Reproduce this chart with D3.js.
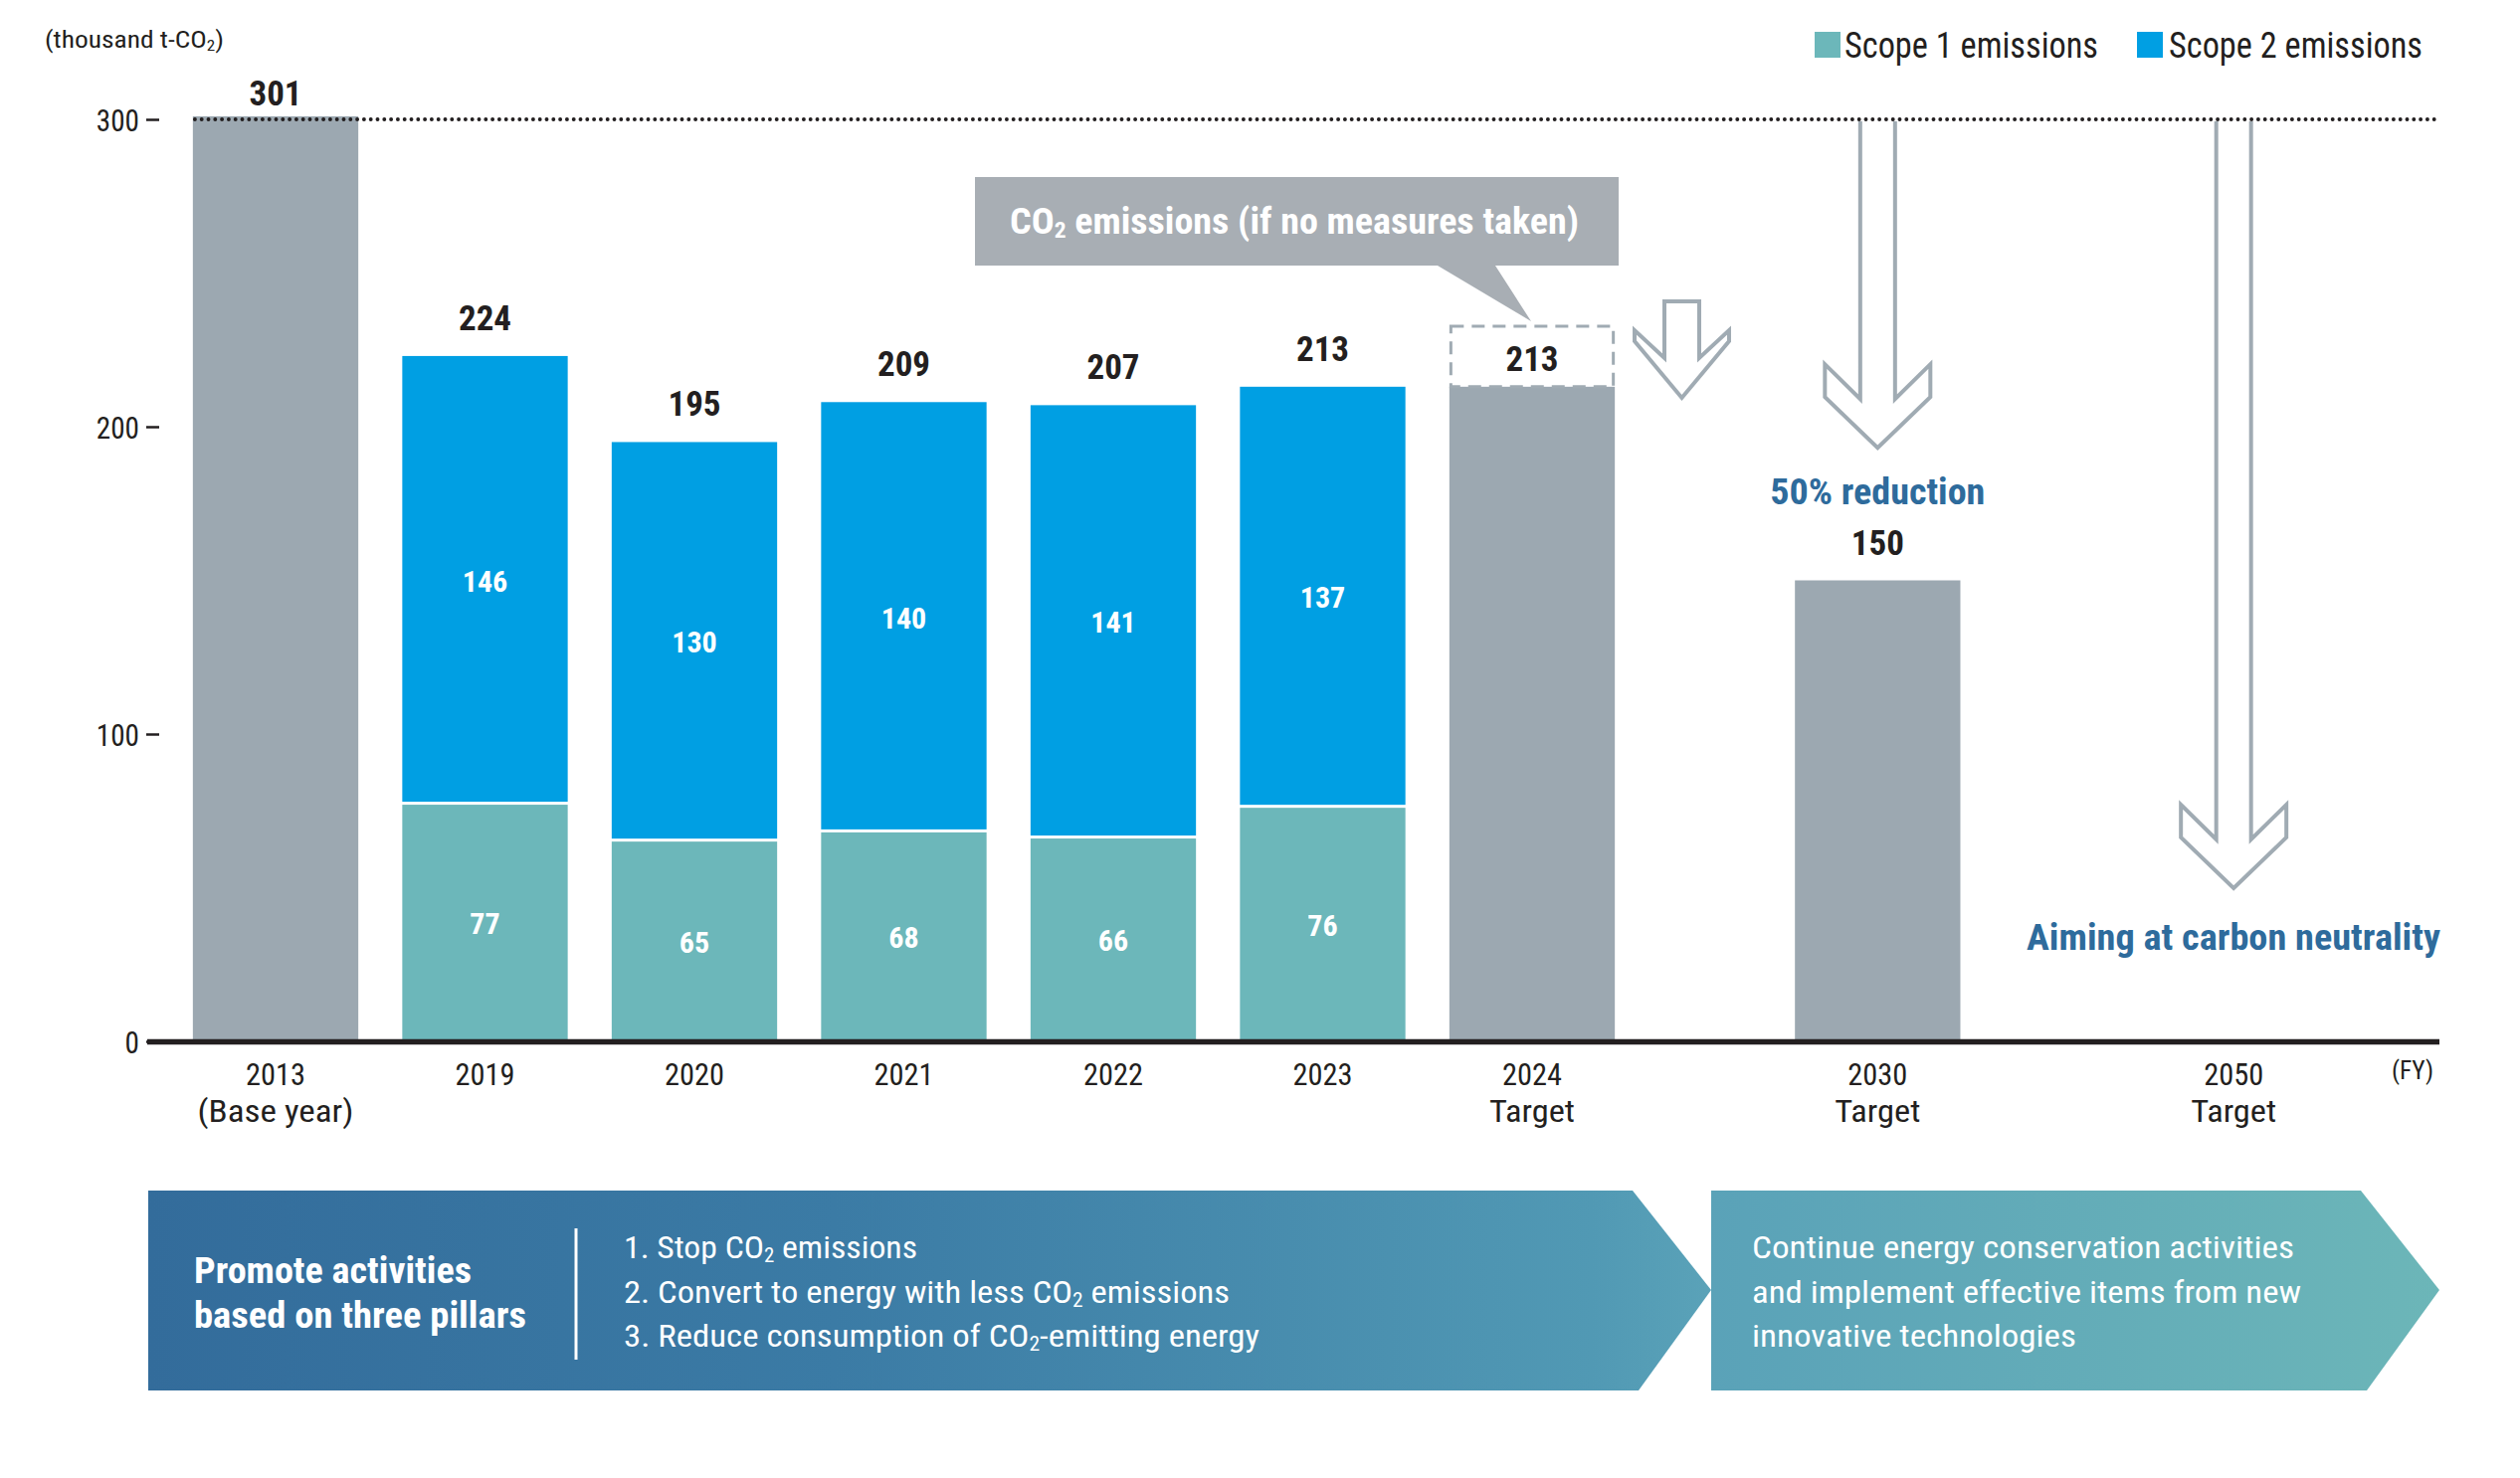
<!DOCTYPE html>
<html>
<head>
<meta charset="utf-8">
<script src="https://cdn.jsdelivr.net/npm/d3@7"></script>
<style>
  html, body { margin: 0; padding: 0; background: #ffffff; }
  svg { display: block; }
</style>
</head>
<body>
<svg id="chart" width="2533" height="1486"></svg>
<script>
// ---------------- DATA ----------------
const categories = ["2013", "2019", "2020", "2021", "2022", "2023", "2024", "2030", "2050"];
const subLabels  = ["(Base year)", "", "", "", "", "", "Target", "Target", "Target"];
const scope1     = [null, 77, 65, 68, 66, 76, null, null, null];
const scope2     = [null, 146, 130, 140, 141, 137, null, null, null];
const grayTotals = [301, null, null, null, null, null, 213, 150, null];
const totalLabels = [301, 224, 195, 209, 207, 213, 213, 150, null];
const yTicks     = [0, 100, 200, 300];
const legendItems = ["Scope 1 emissions", "Scope 2 emissions"];
const pillarsTitle = ["Promote activities", "based on three pillars"];
const pillarsItems = [["1. Stop CO", "2", " emissions"], ["2. Convert to energy with less CO", "2", " emissions"], ["3. Reduce consumption of CO", "2", "-emitting energy"]];
const futureText = ["Continue energy conservation activities", "and implement effective items from new", "innovative technologies"];

// ---------------- STYLE ----------------
const C = {
  text: "#231f20", gray: "#9ca8b1", s1: "#6cb7ba", s2: "#009fe3",
  arrow: "#a0abb3", callout: "#a8aeb4", blue: "#2e6b9c"
};

function pickFont() {
  const c = document.createElement("canvas").getContext("2d");
  const s = "abcdefghijklmnopqrstuvwxyzABCDEFGHIJ0123456789";
  c.font = '72px "Liberation Sans"'; const base = c.measureText(s).width;
  for (const f of ["Liberation Sans Narrow", "Roboto Condensed", "DejaVu Sans Condensed"]) {
    c.font = `72px "${f}", "Liberation Sans"`;
    const w = c.measureText(s).width;
    if (w < base * 0.88) return { f, ratio: w / base };
  }
  return null;
}
const nf = pickFont();
const FONT = nf ? `"${nf.f}", "Liberation Sans", sans-serif` : `"Liberation Sans", Arial, sans-serif`;
const SX = nf ? 1 : 0.84;

const svg = d3.select("#chart");

// o.w = width of the text as measured on the reference (fits glyphs to it)
function txt(parent, x, y, str, o = {}) {
  const size = o.size || 30;
  const t = parent.append("text")
    .attr("transform", o.w ? `translate(${x},${y})` : `translate(${x},${y}) scale(${SX},1)`)
    .attr("font-family", FONT)
    .attr("font-size", size)
    .attr("font-weight", o.weight || "normal")
    .attr("text-anchor", o.anchor || "start")
    .attr("fill", o.fill || C.text);
  if (o.w) t.attr("textLength", o.w).attr("lengthAdjust", "spacingAndGlyphs");
  if (Array.isArray(str)) {
    t.append("tspan").text(str[0]);
    t.append("tspan").attr("font-size", size * 0.62).attr("dy", size * 0.12).text(str[1]);
    t.append("tspan").attr("dy", -size * 0.12).text(str[2]);
  } else if (str) t.text(str);
  return t;
}

// ---------------- SCALES ----------------
const y = d3.scaleLinear().domain([0, 300]).range([1047, 120]);
const x = d3.scaleLinear().domain([0, 6]).range([277, 1540]);
const slots = [0, 1, 2, 3, 4, 5, 6, 7.65, 9.35];
const step = x(1) - x(0);
const bw = step * 0.79;
const rows = categories.map((c, i) => ({ c, i, slot: slots[i], s1: scope1[i], s2: scope2[i], g: grayTotals[i], lab: totalLabels[i], sub: subLabels[i] }));

// ---------------- BANNER ----------------
const defs = svg.append("defs");
const grad = defs.append("linearGradient").attr("id", "bannerGrad")
  .attr("gradientUnits", "userSpaceOnUse").attr("x1", 149).attr("x2", 2452).attr("y1", 0).attr("y2", 0);
[[0, "#336c9b"], [0.3, "#3b7ba5"], [0.63, "#5199b4"], [0.68, "#5aa2b8"], [1, "#6cb6b8"]]
  .forEach(([o, c]) => grad.append("stop").attr("offset", o).attr("stop-color", c));

const bTop = 1197, bBot = 1398, bMid = 1297;
svg.append("path").attr("fill", "url(#bannerGrad)")
  .attr("d", `M149,${bTop} L1641,${bTop} L1720,${bMid} L1647,${bBot} L149,${bBot} Z`);
svg.append("path").attr("fill", "url(#bannerGrad)")
  .attr("d", `M1720,${bTop} L2373,${bTop} L2452,${bMid} L2379,${bBot} L1720,${bBot} Z`);
const titleW = [279, 334];
pillarsTitle.forEach((t, i) => txt(svg, 195, [1290, 1335][i], t, { size: 37, weight: "bold", fill: "#fff", w: titleW[i] }));
svg.append("line").attr("x1", 579).attr("x2", 579).attr("y1", 1235).attr("y2", 1367)
  .attr("stroke", "#fff").attr("stroke-width", 3);
const lineYs = [1265, 1310, 1354];
const itemW = [295, 609, 639];
pillarsItems.forEach((it, i) => txt(svg, 627, lineYs[i], it, { size: 32, fill: "#fff", w: itemW[i] }));
const futW = [545, 552, 326];
futureText.forEach((t, i) => txt(svg, 1761, lineYs[i], t, { size: 32, fill: "#fff", w: futW[i] }));

// ---------------- BARS ----------------
const gBars = svg.append("g");
gBars.selectAll("rect.gray").data(rows.filter(d => d.g != null)).join("rect")
  .attr("class", "gray")
  .attr("x", d => x(d.slot) - bw / 2).attr("width", bw)
  .attr("y", d => y(d.g)).attr("height", d => y(0) - y(d.g))
  .attr("fill", C.gray);
const stacked = rows.filter(d => d.s1 != null);
gBars.selectAll("rect.s1").data(stacked).join("rect")
  .attr("class", "s1")
  .attr("x", d => x(d.slot) - bw / 2).attr("width", bw)
  .attr("y", d => y(d.s1)).attr("height", d => y(0) - y(d.s1))
  .attr("fill", C.s1);
gBars.selectAll("rect.s2").data(stacked).join("rect")
  .attr("class", "s2")
  .attr("x", d => x(d.slot) - bw / 2).attr("width", bw)
  .attr("y", d => y(d.s1 + d.s2)).attr("height", d => y(d.s1) - y(d.s1 + d.s2) - 3)
  .attr("fill", C.s2);
stacked.forEach(d => {
  txt(svg, x(d.slot), (y(0) + y(d.s1)) / 2 + 11, String(d.s1), { size: 30, weight: "bold", fill: "#fff", anchor: "middle" });
  txt(svg, x(d.slot), (y(d.s1) + y(d.s1 + d.s2)) / 2 + 11, String(d.s2), { size: 30, weight: "bold", fill: "#fff", anchor: "middle" });
});

// ---------------- AXES ----------------
const yAxis = svg.append("g").attr("transform", "translate(160,0)")
  .call(d3.axisLeft(y).tickValues(yTicks).tickSize(13).tickPadding(7));
yAxis.select(".domain").remove();
yAxis.selectAll(".tick line").attr("stroke", C.text).attr("stroke-width", 2.5);
yAxis.selectAll(".tick text")
  .attr("font-family", FONT).attr("font-size", 31).attr("fill", C.text)
  .attr("x", null).attr("dy", "0.36em")
  .attr("transform", `translate(-20,0) scale(${SX * 0.94},1)`);

svg.append("line").attr("x1", 148).attr("x2", 2452).attr("y1", y(0) + 0.5).attr("y2", y(0) + 0.5)
  .attr("stroke", C.text).attr("stroke-width", 5.5);

svg.append("line").attr("x1", x(0) - bw / 2 + 2).attr("x2", 2452).attr("y1", y(300)).attr("y2", y(300))
  .attr("stroke", C.text).attr("stroke-width", 3.8).attr("stroke-linecap", "round")
  .attr("stroke-dasharray", "0.1,6.7");

const xAxis = svg.append("g").attr("transform", `translate(0,${y(0)})`)
  .call(d3.axisBottom(x).tickValues(slots).tickSize(0).tickFormat(() => ""));
xAxis.select(".domain").remove();
rows.forEach(d => {
  txt(svg, x(d.slot), 1091, d.c, { size: 32, anchor: "middle", w: 60 });
  if (d.sub) txt(svg, x(d.slot), 1128, d.sub, { size: 32, anchor: "middle", w: d.sub === "Target" ? 86 : 157 });
});
txt(svg, 2446, 1085, "(FY)", { size: 26, anchor: "end", w: 42 });

rows.filter(d => d.lab != null).forEach(d => {
  const top = d.s1 != null ? d.s1 + d.s2 : d.g;
  let yy = y(top) - 26;
  if (d.i === 0) yy = y(top) - 11;
  if (d.c === "2024") yy = 373;
  txt(svg, x(d.slot), yy, String(d.lab), { size: 35, weight: "bold", anchor: "middle" });
});

// ---------------- ANNOTATIONS ----------------
const x24 = x(6);
svg.append("rect").attr("x", x24 - bw / 2 + 1.5).attr("y", 328).attr("width", bw - 3).attr("height", y(213) - 328)
  .attr("fill", "none").attr("stroke", C.arrow).attr("stroke-width", 3).attr("stroke-dasharray", "13,8");

svg.append("path").attr("fill", C.callout)
  .attr("d", "M980,178 L1627,178 L1627,267 L1503,267 L1539,323 L1445,267 L980,267 Z");
txt(svg, 1301, 235, ["CO", "2", " emissions (if no measures taken)"], { size: 36, weight: "bold", fill: "#fff", anchor: "middle", w: 572 });

function arrowPath(cx, top, stemBot, wingTop, wingBot, tip, s, w, closed) {
  const p = [
    [cx - s, top], [cx - s, stemBot], [cx - w, wingTop], [cx - w, wingBot], [cx, tip],
    [cx + w, wingBot], [cx + w, wingTop], [cx + s, stemBot], [cx + s, top]
  ];
  return "M" + p.map(q => q.join(",")).join("L") + (closed ? "Z" : "");
}
const ag = svg.append("g").attr("fill", "#fff").attr("stroke", C.arrow).attr("stroke-width", 4)
  .attr("stroke-linejoin", "miter");
ag.append("path").attr("d", arrowPath(1690.5, 303, 360, 332, 343, 400, 17.5, 47.5, true));
const top300 = y(300) + 2;
ag.append("path").attr("d", arrowPath(x(7.65), top300, y(209), y(209) - 35, y(209) - 2, y(209) + 49, 17.5, 53, false));
ag.append("path").attr("d", arrowPath(x(9.35), top300, y(65.7), y(65.7) - 35, y(65.7) - 2, y(65.7) + 49, 17.5, 53, false));

txt(svg, x(7.65), 507, "50% reduction", { size: 36, weight: "bold", fill: C.blue, anchor: "middle", w: 216 });
txt(svg, 2453, 955, "Aiming at carbon neutrality", { size: 37, weight: "bold", fill: C.blue, anchor: "end", w: 416 });

// ---------------- LEGEND / UNIT ----------------
txt(svg, 45, 48, ["(thousand t-CO", "2", ")"], { size: 24, w: 180 });
const lg = [[1824, C.s1, 1854], [2148, C.s2, 2180]];
legendItems.forEach((l, i) => {
  svg.append("rect").attr("x", lg[i][0]).attr("y", 32).attr("width", 26).attr("height", 26).attr("fill", lg[i][1]);
  txt(svg, lg[i][2], 58, l, { size: 36, w: 255 });
});
</script>
</body>
</html>
